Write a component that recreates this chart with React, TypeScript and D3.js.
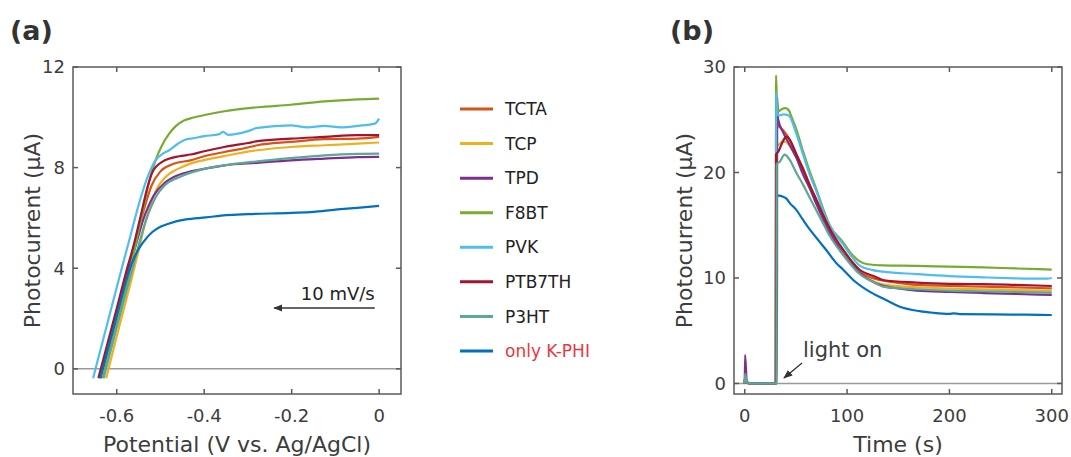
import React from 'react';
import * as d3 from 'd3';

// legend / series names and colours
const seriesNames = ['TCTA', 'TCP', 'TPD', 'F8BT', 'PVK', 'PTB7TH', 'P3HT', 'only K-PHI'];
const seriesColors = ['#D95319', '#EDB120', '#7E2F8E', '#77AC30', '#4DBEEE', '#A2142F', '#5CA797', '#0072BD'];

// (a) linear sweep: [potential (V), photocurrent (uA)]
const lsvTCTA = [[-0.64, -0.37], [-0.6, 2.3], [-0.58, 3.6], [-0.56, 4.9], [-0.54, 6.2], [-0.52, 7.3], [-0.5, 7.85], [-0.47, 8.15], [-0.431, 8.29], [-0.4, 8.45], [-0.354, 8.62], [-0.3, 8.8], [-0.278, 8.89], [-0.202, 9.02], [-0.125, 9.13], [-0.049, 9.15], [0, 9.22]];
const lsvTCP = [[-0.624, -0.37], [-0.6, 1.3], [-0.57, 3.3], [-0.55, 4.7], [-0.535, 5.8], [-0.51, 7.1], [-0.49, 7.6], [-0.46, 7.95], [-0.431, 8.16], [-0.4, 8.3], [-0.354, 8.46], [-0.278, 8.69], [-0.202, 8.82], [-0.125, 8.89], [-0.049, 8.95], [0, 9.0]];
const lsvTPD = [[-0.637, -0.37], [-0.6, 2.1], [-0.575, 3.75], [-0.555, 5.0], [-0.54, 5.9], [-0.515, 6.9], [-0.49, 7.4], [-0.46, 7.7], [-0.431, 7.85], [-0.4, 7.95], [-0.354, 8.09], [-0.278, 8.19], [-0.202, 8.29], [-0.125, 8.36], [-0.049, 8.42], [0, 8.43]];
const lsvF8BT = [[-0.632, -0.37], [-0.6, 1.8], [-0.57, 3.9], [-0.545, 5.9], [-0.526, 7.45], [-0.51, 8.35], [-0.496, 8.9], [-0.48, 9.35], [-0.465, 9.65], [-0.445, 9.88], [-0.427, 9.98], [-0.396, 10.1], [-0.354, 10.24], [-0.278, 10.4], [-0.202, 10.5], [-0.125, 10.63], [-0.049, 10.71], [0, 10.74]];
const lsvPVK = [[-0.654, -0.37], [-0.62, 1.9], [-0.59, 3.9], [-0.57, 5.2], [-0.549, 6.57], [-0.53, 7.6], [-0.511, 8.3], [-0.495, 8.55], [-0.48, 8.69], [-0.46, 8.95], [-0.442, 9.12], [-0.431, 9.15], [-0.4, 9.25], [-0.365, 9.33], [-0.357, 9.42], [-0.345, 9.3], [-0.3, 9.45], [-0.278, 9.58], [-0.202, 9.68], [-0.164, 9.6], [-0.125, 9.66], [-0.087, 9.6], [-0.049, 9.66], [-0.01, 9.75], [0, 9.95]];
const lsvPTB7TH = [[-0.642, -0.37], [-0.6, 2.4], [-0.58, 3.75], [-0.56, 5.0], [-0.545, 6.1], [-0.53, 7.2], [-0.518, 7.83], [-0.496, 8.23], [-0.457, 8.45], [-0.431, 8.52], [-0.4, 8.65], [-0.354, 8.82], [-0.3, 8.98], [-0.278, 9.05], [-0.202, 9.15], [-0.125, 9.22], [-0.049, 9.29], [0, 9.29]];
const lsvP3HT = [[-0.63, -0.37], [-0.6, 1.65], [-0.57, 3.6], [-0.55, 4.9], [-0.535, 5.8], [-0.51, 6.85], [-0.49, 7.3], [-0.46, 7.6], [-0.431, 7.8], [-0.4, 7.95], [-0.354, 8.09], [-0.278, 8.25], [-0.202, 8.38], [-0.125, 8.49], [-0.049, 8.55], [0, 8.56]];
const lsvKPHI = [[-0.638, -0.37], [-0.6, 2.1], [-0.575, 3.7], [-0.564, 4.25], [-0.552, 4.7], [-0.541, 5.0], [-0.518, 5.45], [-0.5, 5.65], [-0.48, 5.78], [-0.442, 5.94], [-0.396, 6.02], [-0.35, 6.11], [-0.3, 6.15], [-0.2, 6.2], [-0.15, 6.24], [-0.1, 6.33], [-0.05, 6.4], [0, 6.48]];

// (b) chronoamperometry: [time (s), photocurrent (uA)]
const itTCTA = [[0, 0], [0.3, 0.6], [2, 0.1], [5, 0], [30.4, 0], [30.6, 24.6], [33, 24.4], [37.5, 24.0], [44, 23.1], [50.5, 21.7], [57, 20.4], [63.5, 18.8], [70, 17.4], [76.5, 16.0], [83, 14.6], [96, 12.6], [112, 10.6], [128, 9.9], [145, 9.6], [168, 9.34], [200, 9.25], [233, 9.18], [265, 9.1], [300, 9.02]];
const itTCP = [[0, 0], [0.3, 0.6], [2, 0.1], [5, 0], [30.4, 0], [30.6, 22.8], [33, 22.6], [36, 22.9], [40, 22.9], [44, 22.5], [50.5, 21.4], [57, 20.2], [63.5, 18.7], [70, 17.3], [76.5, 15.9], [83, 14.5], [96, 12.5], [112, 10.5], [128, 9.6], [135, 9.4], [168, 9.12], [200, 9.0], [233, 8.93], [265, 8.86], [300, 8.8]];
const itTPD = [[0, 0], [0.3, 2.7], [2, 0.2], [5, 0.02], [31.5, 0], [31.7, 27.1], [32.5, 25.1], [37.5, 23.8], [44, 22.6], [50.5, 21.4], [57, 19.8], [63.5, 18.5], [70, 17.0], [76.5, 15.6], [83, 14.3], [96, 12.3], [112, 10.5], [128, 9.5], [135, 9.25], [150, 9.0], [168, 8.8], [200, 8.67], [233, 8.57], [265, 8.48], [300, 8.39]];
const itF8BT = [[0, 0], [0.3, 0.6], [2, 0.1], [5, 0], [30.4, 0], [30.6, 29.2], [31.5, 26.5], [33, 25.8], [36, 26.0], [40, 26.1], [43, 25.9], [46, 25.2], [50, 24.2], [57, 22.0], [63.5, 20.1], [70, 18.4], [76.5, 16.6], [83, 15.0], [96, 13.4], [105, 12.2], [112, 11.6], [120, 11.3], [135, 11.2], [168, 11.15], [200, 11.07], [233, 11.0], [265, 10.9], [300, 10.8]];
const itPVK = [[0, 0], [0.3, 0.6], [2, 0.1], [5, 0], [30.4, 0], [30.6, 27.6], [31.5, 25.8], [33, 25.4], [38, 25.5], [43, 25.4], [50, 23.8], [57, 21.7], [63.5, 19.8], [70, 18.2], [76.5, 16.4], [83, 14.9], [96, 13.2], [104, 12.1], [112, 11.2], [125, 10.75], [135, 10.6], [168, 10.37], [200, 10.18], [233, 10.06], [265, 9.97], [295, 9.93], [300, 10.0]];
const itPTB7TH = [[0, 0], [0.3, 0.6], [2, 0.1], [5, 0], [30.4, 0], [30.6, 21.7], [33, 22.0], [37, 22.9], [40.7, 23.4], [44, 23.1], [50.5, 21.7], [57, 20.3], [63.5, 18.8], [70, 17.4], [76.5, 16.0], [83, 14.7], [96, 12.7], [112, 10.8], [128, 10.1], [135, 9.81], [168, 9.56], [200, 9.44], [233, 9.42], [265, 9.34], [300, 9.24]];
const itP3HT = [[0, 0], [0.3, 0.9], [2, 0.15], [5, 0], [31, 0], [31.2, 20.8], [34, 21.0], [39, 21.7], [44, 21.2], [50.5, 19.95], [57, 18.85], [63.5, 17.6], [70, 16.4], [76.5, 15.2], [83, 14.0], [96, 12.2], [112, 10.4], [128, 9.5], [135, 9.18], [168, 8.93], [200, 8.8], [233, 8.74], [265, 8.67], [300, 8.61]];
const itKPHI = [[0, 0], [0.3, 0.6], [2, 0.1], [5, 0], [30.4, 0], [30.6, 17.8], [33, 17.8], [37.5, 17.7], [41, 17.5], [44, 17.1], [50, 16.5], [57, 15.5], [63.5, 14.6], [73, 13.45], [80, 12.6], [89.6, 11.4], [96, 10.8], [106, 9.81], [122, 8.7], [138, 7.91], [151, 7.3], [171, 6.85], [184, 6.7], [200, 6.6], [204, 6.65], [210, 6.58], [243, 6.55], [275, 6.52], [300, 6.49]];

const lsvData = [lsvTCTA, lsvTCP, lsvTPD, lsvF8BT, lsvPVK, lsvPTB7TH, lsvP3HT, lsvKPHI];
const itData = [itTCTA, itTCP, itTPD, itF8BT, itPVK, itPTB7TH, itP3HT, itKPHI];

// draw order: in (b) the reference curve sits underneath, P3HT on top
const orderA = [0, 1, 2, 3, 4, 5, 6, 7];
const orderB = [7, 0, 1, 2, 3, 4, 5, 6];

const xTicksA = [-0.6, -0.4, -0.2, 0];
const yTicksA = [0, 4, 8, 12];
const xTicksB = [0, 100, 200, 300];
const yTicksB = [0, 10, 20, 30];

const FONT = "'DejaVu Sans', 'Open Sans', sans-serif";
const AXIS_COLOR = '#5a5a5a';
const TEXT_COLOR = '#3c3c3c';

type Pt = number[];

function Panel({ xScale, yScale, xTicks, yTicks, data, order, xLabel, yLabel, yLabelX, tag, tagX }: any) {
  const [x0, x1] = xScale.range();
  const [y0, y1] = yScale.range(); // y0 bottom, y1 top
  const line = d3.line<Pt>()
    .x(d => xScale(d[0]))
    .y(d => yScale(d[1]))
    .curve(d3.curveMonotoneX);
  const tickLen = 5;
  return (
    <g>
      {/* zero line */}
      <line x1={x0} x2={x1} y1={yScale(0)} y2={yScale(0)} stroke="#9a9a9a" strokeWidth={1.5} />
      {order.map((i: number) => (
        <path key={i} d={line(data[i]) || ''} fill="none" stroke={seriesColors[i]} strokeWidth={2.2} strokeLinejoin="round" />
      ))}
      {/* box */}
      <rect x={x0} y={y1} width={x1 - x0} height={y0 - y1} fill="none" stroke={AXIS_COLOR} strokeWidth={1.5} />
      {xTicks.map((t: number) => (
        <g key={'x' + t}>
          <line x1={xScale(t)} x2={xScale(t)} y1={y0} y2={y0 - tickLen} stroke={AXIS_COLOR} strokeWidth={1.5} />
          <line x1={xScale(t)} x2={xScale(t)} y1={y1} y2={y1 + tickLen} stroke={AXIS_COLOR} strokeWidth={1.5} />
          <text x={xScale(t)} y={y0 + 28} textAnchor="middle" fontSize={18} fill={TEXT_COLOR}>{String(t)}</text>
        </g>
      ))}
      {yTicks.map((t: number) => (
        <g key={'y' + t}>
          <line x1={x0} x2={x0 + tickLen} y1={yScale(t)} y2={yScale(t)} stroke={AXIS_COLOR} strokeWidth={1.5} />
          <line x1={x1} x2={x1 - tickLen} y1={yScale(t)} y2={yScale(t)} stroke={AXIS_COLOR} strokeWidth={1.5} />
          <text x={x0 - 8} y={yScale(t)} dy="0.36em" textAnchor="end" fontSize={18} fill={TEXT_COLOR}>{t}</text>
        </g>
      ))}
      <text x={(x0 + x1) / 2} y={452} textAnchor="middle" fontSize={22} fill={TEXT_COLOR}>{xLabel}</text>
      <text transform={`translate(${yLabelX},${(y0 + y1) / 2}) rotate(-90)`} textAnchor="middle" dy="0.36em" fontSize={22} fill={TEXT_COLOR}>{yLabel}</text>
      <text x={tagX} y={40} fontSize={27} fontWeight="bold" fill="#333">{tag}</text>
    </g>
  );
}

export default function App() {
  const xA = d3.scaleLinear().domain([-0.7, 0.05]).range([73, 401]);
  const yA = d3.scaleLinear().domain([-1, 12]).range([394, 67]);
  const xB = d3.scaleLinear().domain([-10.5, 310]).range([734, 1062]);
  const yB = d3.scaleLinear().domain([-1, 30]).range([394, 67]);

  const legendY = d3.scalePoint<string>().domain(seriesNames).range([109, 351]);

  return (
    <svg width={1071} height={457} style={{ position: 'absolute', left: 0, top: 0, background: '#fff' }} fontFamily={FONT}>
      <defs>
        <marker id="arrow" viewBox="0 0 10 10" refX="9" refY="5" markerWidth="7" markerHeight="7" orient="auto-start-reverse">
          <path d="M0,1 L10,5 L0,9 z" fill="#333" />
        </marker>
      </defs>

      <Panel xScale={xA} yScale={yA} xTicks={xTicksA} yTicks={yTicksA} data={lsvData} order={orderA}
        xLabel="Potential (V vs. Ag/AgCl)" yLabel="Photocurrent (µA)" yLabelX={32} tag="(a)" tagX={10} />
      <Panel xScale={xB} yScale={yB} xTicks={xTicksB} yTicks={yTicksB} data={itData} order={orderB}
        xLabel="Time (s)" yLabel="Photocurrent (µA)" yLabelX={684} tag="(b)" tagX={670} />

      {/* scan rate annotation */}
      <text x={xA(-0.01)} y={300} textAnchor="end" fontSize={18} fill="#222">10 mV/s</text>
      <line x1={xA(-0.01)} x2={xA(-0.24)} y1={308} y2={308} stroke="#333" strokeWidth={1.3} markerEnd="url(#arrow)" />

      {/* light on annotation */}
      <text x={803} y={357} fontSize={21} fill={TEXT_COLOR}>light on</text>
      <line x1={802} y1={363} x2={784} y2={378} stroke="#333" strokeWidth={1.3} markerEnd="url(#arrow)" />

      {/* legend */}
      {seriesNames.map((name, i) => (
        <g key={name} transform={`translate(0,${legendY(name)})`}>
          <line x1={460} x2={493} y1={0} y2={0} stroke={seriesColors[i]} strokeWidth={3} />
          <text x={505} y={0} dy="0.36em" fontSize={17} fill={i === seriesNames.length - 1 ? '#E8363F' : '#222'}>{name}</text>
        </g>
      ))}
    </svg>
  );
}
